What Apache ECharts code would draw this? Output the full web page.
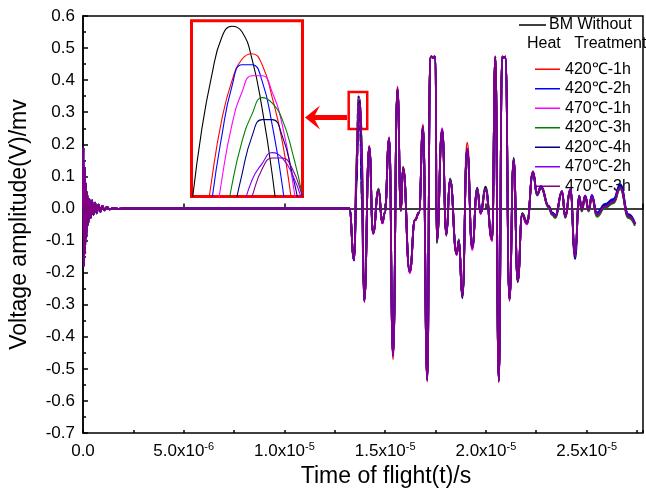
<!DOCTYPE html>
<html><head><meta charset="utf-8">
<script src="https://cdn.jsdelivr.net/npm/echarts@6/dist/echarts.min.js"></script>
<style>html,body{margin:0;padding:0;background:#fff}#c{width:646px;height:496px}</style>
</head><body><div id="c"></div><script>
// ---- data (time in microseconds, amplitude in mV) ----
const burstTimes  = [0, 0.02, 0.05, 0.08, 0.11, 0.14, 0.17, 0.21, 0.26, 0.32, 0.38, 0.45, 0.52, 0.60, 0.68, 0.77, 0.86, 0.96, 1.07, 1.19, 1.32, 1.50, 1.75, 2.0];
const burstValues = [0, 0.19, -0.18, 0.13, -0.14, 0.08, -0.09, 0.05, -0.05, 0.03, -0.03, 0.025, -0.02, 0.018, -0.015, 0.012, -0.01, 0.008, -0.006, 0.005, -0.003, 0.002, -0.001, 0];

const signalTimes = [13.22, 13.46,
  13.60, 13.61, 13.62, 13.63, 13.64, 13.65, 13.66, 13.67, 13.68, 13.69, 13.70, 13.71, 13.72, 13.73, 13.74, 13.75, 13.76, 13.77, 13.78, 13.79, 13.80, 13.81, 13.82,
  13.96, 14.21, 14.40, 14.67, 14.86, 14.98, 15.20, 15.39, 15.61, 15.78, 15.89, 16.22, 16.48, 16.68, 16.88, 17.09, 17.24, 17.30, 17.38, 17.45, 17.50, 17.56,
  17.83, 18.04, 18.22, 18.55, 18.66, 18.83, 19.07, 19.32, 19.57, 19.74, 19.98, 20.31, 20.47, 20.64, 20.81, 20.89, 20.97, 21.17, 21.38, 21.58, 21.80, 22.04, 22.34, 22.54, 22.74,
  23.12, 23.28, 23.45, 23.78, 23.94, 24.19, 24.43, 24.63, 24.76, 24.93, 25.10, 25.26, 25.51, 25.92, 26.33, 26.67, 27.08, 27.40];

const bmValues = [0, -0.160,
  0.190, 0.224, 0.253, 0.278, 0.300, 0.318, 0.332, 0.342, 0.349, 0.351, 0.350, 0.345, 0.336, 0.324, 0.308, 0.287, 0.263, 0.236, 0.204, 0.169, 0.130, 0.087, 0.040,
  -0.285, 0.190, -0.075, 0.055, -0.045, -0.012, 0.215, -0.450, 0.368, -0.008, 0.122, -0.195, -0.035, -0.012, 0.250, -0.525, 0.468, 0.473, 0.470, 0.473, 0.468, -0.108,
  0.240, -0.085, 0.092, -0.142, -0.098, -0.273, 0.180, -0.125, 0.065, -0.010, 0.068, -0.090, 0.473, -0.530, 0.473, 0.470, 0.473, -0.278, 0.158, -0.230, -0.015, -0.040, 0.110, 0.045, 0.066,
  0.004, -0.012, -0.022, 0.050, -0.022, 0.055, -0.135, 0.040, -0.002, 0.040, -0.003, 0.038, -0.018, 0.004, 0.018, 0.062, -0.022, -0.048];

const h420_1Values = [0, -0.158,
  0.159, 0.192, 0.222, 0.249, 0.272, 0.292, 0.309, 0.323, 0.334, 0.341, 0.345, 0.346, 0.344, 0.338, 0.330, 0.318, 0.303, 0.285, 0.263, 0.238, 0.211, 0.180, 0.145,
  -0.292, 0.196, -0.078, 0.060, -0.046, -0.016, 0.222, -0.470, 0.380, -0.004, 0.130, -0.200, -0.038, -0.015, 0.262, -0.540, 0.473, 0.474, 0.471, 0.474, 0.471, -0.100,
  0.248, -0.078, 0.088, -0.138, -0.102, -0.268, 0.205, -0.118, 0.060, -0.016, 0.058, -0.100, 0.474, -0.542, 0.474, 0.471, 0.474, -0.288, 0.150, -0.222, -0.022, -0.048, 0.116, 0.048, 0.070,
  0.008, -0.016, -0.028, 0.055, -0.027, 0.060, -0.145, 0.036, -0.006, 0.035, -0.006, 0.036, -0.022, 0.007, 0.022, 0.066, -0.026, -0.050];

const h420_2Values = [0, -0.162,
  0.120, 0.160, 0.197, 0.229, 0.258, 0.282, 0.302, 0.319, 0.331, 0.340, 0.344, 0.344, 0.341, 0.333, 0.322, 0.306, 0.286, 0.263, 0.235, 0.204, 0.168, 0.128, 0.085,
  -0.290, 0.192, -0.076, 0.058, -0.044, -0.014, 0.219, -0.460, 0.375, -0.005, 0.126, -0.198, -0.036, -0.014, 0.256, -0.535, 0.472, 0.474, 0.470, 0.474, 0.470, -0.102,
  0.244, -0.076, 0.090, -0.140, -0.100, -0.272, 0.186, -0.120, 0.058, -0.014, 0.060, -0.098, 0.473, -0.538, 0.473, 0.470, 0.473, -0.284, 0.152, -0.224, -0.020, -0.045, 0.114, 0.046, 0.068,
  0.008, -0.012, -0.020, 0.054, -0.024, 0.060, -0.148, 0.040, -0.004, 0.040, 0.000, 0.042, -0.012, 0.014, 0.030, 0.075, -0.018, -0.045];

const h470_1Values = [0, -0.158,
  0.131, 0.166, 0.198, 0.227, 0.253, 0.275, 0.294, 0.310, 0.323, 0.333, 0.339, 0.342, 0.342, 0.339, 0.333, 0.323, 0.310, 0.294, 0.275, 0.253, 0.227, 0.198, 0.166,
  -0.288, 0.190, -0.080, 0.057, -0.047, -0.015, 0.218, -0.458, 0.372, -0.002, 0.124, -0.202, -0.037, -0.013, 0.254, -0.532, 0.471, 0.473, 0.470, 0.473, 0.470, -0.098,
  0.250, -0.082, 0.086, -0.146, -0.104, -0.275, 0.184, -0.130, 0.056, -0.018, 0.056, -0.102, 0.473, -0.536, 0.473, 0.470, 0.473, -0.282, 0.150, -0.226, -0.024, -0.050, 0.112, 0.042, 0.064,
  0.004, -0.018, -0.026, 0.050, -0.028, 0.056, -0.140, 0.034, -0.008, 0.034, -0.008, 0.034, -0.024, 0.004, 0.020, 0.064, -0.028, -0.052];

const h420_3Values = [0, -0.160,
  0.123, 0.156, 0.186, 0.214, 0.239, 0.261, 0.280, 0.297, 0.311, 0.322, 0.330, 0.335, 0.338, 0.337, 0.334, 0.328, 0.320, 0.308, 0.294, 0.277, 0.257, 0.234, 0.209,
  -0.286, 0.188, -0.074, 0.062, -0.043, -0.013, 0.216, -0.455, 0.370, -0.006, 0.128, -0.194, -0.034, -0.012, 0.252, -0.530, 0.470, 0.473, 0.470, 0.473, 0.469, -0.104,
  0.242, -0.080, 0.094, -0.144, -0.096, -0.276, 0.182, -0.122, 0.062, -0.012, 0.062, -0.094, 0.473, -0.534, 0.473, 0.470, 0.473, -0.280, 0.154, -0.228, -0.018, -0.044, 0.108, 0.040, 0.062,
  0.002, -0.020, -0.030, 0.048, -0.030, 0.052, -0.142, 0.032, -0.010, 0.032, -0.010, 0.032, -0.026, 0.002, 0.016, 0.060, -0.030, -0.054];

const h420_4Values = [0, -0.162,
  0.084, 0.123, 0.158, 0.190, 0.219, 0.244, 0.267, 0.286, 0.302, 0.315, 0.324, 0.331, 0.334, 0.334, 0.331, 0.324, 0.315, 0.302, 0.286, 0.267, 0.244, 0.219, 0.190,
  -0.288, 0.192, -0.078, 0.058, -0.045, -0.014, 0.218, -0.458, 0.372, -0.004, 0.126, -0.196, -0.036, -0.014, 0.255, -0.534, 0.472, 0.473, 0.470, 0.473, 0.470, -0.100,
  0.244, -0.080, 0.090, -0.140, -0.100, -0.280, 0.186, -0.122, 0.060, -0.014, 0.060, -0.096, 0.473, -0.538, 0.473, 0.470, 0.473, -0.284, 0.152, -0.226, -0.020, -0.046, 0.112, 0.044, 0.066,
  0.006, -0.014, -0.024, 0.052, -0.026, 0.058, -0.158, 0.038, -0.004, 0.038, -0.004, 0.038, -0.016, 0.010, 0.026, 0.072, -0.020, -0.048];

const h470_2Values = [0, -0.160,
  0.136, 0.164, 0.190, 0.214, 0.235, 0.254, 0.271, 0.286, 0.298, 0.309, 0.317, 0.323, 0.326, 0.328, 0.327, 0.324, 0.319, 0.312, 0.303, 0.291, 0.277, 0.261, 0.243,
  -0.288, 0.191, -0.077, 0.058, -0.045, -0.014, 0.218, -0.458, 0.373, -0.004, 0.126, -0.198, -0.036, -0.014, 0.255, -0.535, 0.472, 0.473, 0.470, 0.473, 0.470, -0.100,
  0.246, -0.080, 0.090, -0.142, -0.100, -0.272, 0.186, -0.122, 0.060, -0.014, 0.060, -0.096, 0.473, -0.538, 0.473, 0.470, 0.473, -0.284, 0.152, -0.224, -0.020, -0.046, 0.114, 0.044, 0.066,
  0.006, -0.016, -0.024, 0.054, -0.026, 0.062, -0.146, 0.040, -0.004, 0.040, -0.004, 0.038, -0.018, 0.006, 0.022, 0.066, -0.024, -0.048];

const h470_3Values = [0, -0.160,
  0.127, 0.155, 0.182, 0.206, 0.228, 0.248, 0.265, 0.281, 0.294, 0.305, 0.314, 0.320, 0.325, 0.327, 0.327, 0.325, 0.320, 0.314, 0.305, 0.294, 0.281, 0.265, 0.248,
  -0.286, 0.190, -0.076, 0.057, -0.046, -0.015, 0.217, -0.456, 0.371, -0.005, 0.125, -0.197, -0.036, -0.014, 0.254, -0.533, 0.471, 0.473, 0.470, 0.473, 0.470, -0.101,
  0.245, -0.081, 0.089, -0.143, -0.101, -0.274, 0.185, -0.123, 0.059, -0.015, 0.059, -0.097, 0.473, -0.537, 0.473, 0.470, 0.473, -0.283, 0.151, -0.225, -0.021, -0.047, 0.113, 0.043, 0.065,
  0.005, -0.017, -0.025, 0.052, -0.027, 0.058, -0.144, 0.038, -0.005, 0.038, -0.005, 0.036, -0.020, 0.005, 0.020, 0.065, -0.025, -0.049];

const seriesNames = ['BM Without Heat Treatment', '420℃-1h', '420℃-2h', '470℃-1h', '420℃-3h', '420℃-4h', '470℃-2h', '470℃-3h'];
const seriesValues = [bmValues, h420_1Values, h420_2Values, h470_1Values, h420_3Values, h420_4Values, h470_2Values, h470_3Values];
const seriesColors = ['#000000', '#ff0000', '#0000ff', '#ff00ff', '#008000', '#000080', '#8000ff', '#800080'];

const xTickValues = [0, 5, 10, 15, 20, 25];
const xTickMantissa = ['0.0', '5.0', '1.0', '1.5', '2.0', '2.5'];
const xTickExponent = ['', '-6', '-5', '-5', '-5', '-5'];

// zoomed region shown in the inset (peak of first echo)
const insetRange = { tMin: 13.65, tMax: 13.76, vMin: 0.32, vMax: 0.352 };
const markBox = { t0: 13.19, t1: 14.11, v0: 0.363, v1: 0.248 };

// ---- build ----
function buildData(vals) {
  const d = burstTimes.map((t, i) => [t, burstValues[i]]);
  signalTimes.forEach((t, i) => d.push([t, vals[i]]));
  return d;
}
const FONT = '"Liberation Sans", Arial, sans-serif';
const chart = echarts.init(document.getElementById('c'), null, { renderer: 'canvas' });

const series = [];
seriesNames.forEach((name, k) => {
  const s = {
    name, type: 'line', xAxisIndex: 0, yAxisIndex: 0,
    data: buildData(seriesValues[k]), showSymbol: false, symbol: 'none',
    smooth: 0.5, smoothMonotone: 'x',
    lineStyle: { color: seriesColors[k], width: 1.8 }, itemStyle: { color: seriesColors[k] },
    silent: true, animation: false, z: 2 + k
  };
  if (k === 0) {
    s.markArea = {
      silent: true,
      itemStyle: { color: 'rgba(0,0,0,0)', borderColor: '#ff0000', borderWidth: 2.5 },
      data: [[{ xAxis: markBox.t0, yAxis: markBox.v0 }, { xAxis: markBox.t1, yAxis: markBox.v1 }]]
    };
  }
  series.push(s);
});
seriesNames.forEach((name, k) => {
  series.push({
    name, type: 'line', xAxisIndex: 2, yAxisIndex: 1,
    data: buildData(seriesValues[k]), showSymbol: false, symbol: 'none',
    smooth: 0.5, clip: true,
    lineStyle: { color: seriesColors[k], width: 1.1 }, itemStyle: { color: seriesColors[k] },
    silent: true, animation: false, z: 2 + k
  });
});

const xLabelMap = {};
xTickValues.forEach((v, i) => {
  xLabelMap[v] = xTickExponent[i] ? '{b|' + xTickMantissa[i] + 'x10}{s|' + xTickExponent[i] + '}' : '{b|' + xTickMantissa[i] + '}';
});

const option = {
  backgroundColor: '#fff',
  animation: false,
  textStyle: { fontFamily: FONT },
  grid: [
    { left: 83, top: 16, width: 562, height: 417, show: true, borderColor: '#000', borderWidth: 1.5, backgroundColor: 'transparent', z: 0 },
    { left: 191.5, top: 20.8, width: 111, height: 175.7, show: true, borderColor: '#ff0000', borderWidth: 3, backgroundColor: '#fff', z: 1 }
  ],
  xAxis: [
    {
      type: 'value', gridIndex: 0, min: 0, max: 27.8, interval: 5,
      name: 'Time of flight(t)/s', nameLocation: 'middle', nameGap: 32,
      nameTextStyle: { fontSize: 23, color: '#000', fontFamily: FONT, padding: [0, 0, 0, 46] },
      axisLine: { lineStyle: { color: '#000', width: 1.5 } },
      axisTick: { inside: true, length: 5, lineStyle: { color: '#000', width: 1.5 } },
      splitLine: { show: false },
      axisLabel: {
        margin: 8, color: '#000', fontFamily: FONT,
        formatter: v => (xLabelMap[v] !== undefined ? xLabelMap[v] : ''),
        rich: {
          b: { fontSize: 17, fontFamily: FONT, color: '#000', lineHeight: 20 },
          s: { fontSize: 11, fontFamily: FONT, color: '#000', verticalAlign: 'top', lineHeight: 11 }
        }
      }
    },
    {
      type: 'value', gridIndex: 0, min: 0, max: 27.8, interval: 2.5, position: 'bottom',
      axisLine: { show: false }, axisLabel: { show: false }, splitLine: { show: false },
      axisTick: { inside: true, length: 3, lineStyle: { color: '#000', width: 1.5 } }
    },
    { type: 'value', gridIndex: 1, min: insetRange.tMin, max: insetRange.tMax, show: false }
  ],
  yAxis: [
    {
      type: 'value', gridIndex: 0, min: -0.7, max: 0.6, interval: 0.1,
      name: 'Voltage amplitude(V)/mv', nameLocation: 'middle', nameGap: 52,
      nameTextStyle: { fontSize: 23, color: '#000', fontFamily: FONT },
      axisLine: { show: true, lineStyle: { color: '#000', width: 1.5 } },
      axisTick: { show: true, inside: true, length: 5, lineStyle: { color: '#000', width: 1.5 } },
      minorTick: { show: true, splitNumber: 2, length: 3, lineStyle: { color: '#000', width: 1.5 } },
      splitLine: { show: false },
      axisLabel: { margin: 8, fontSize: 17, color: '#000', fontFamily: FONT, formatter: v => v.toFixed(1) }
    },
    { type: 'value', gridIndex: 1, min: insetRange.vMin, max: insetRange.vMax, show: false }
  ],
  legend: {
    orient: 'vertical', left: 530, top: 54.5, itemGap: 0,
    icon: 'rect', itemWidth: 25, itemHeight: 1.5,
    textStyle: { fontSize: 16, color: '#000', fontFamily: FONT, lineHeight: 19.5 },
    data: seriesNames.slice(1)
  },
  graphic: [
    { type: 'line', shape: { x1: 519, y1: 25, x2: 546, y2: 25 }, style: { stroke: '#000', lineWidth: 1.5 }, z: 10 },
    { type: 'text', x: 549, y: 25, style: { text: 'BM Without', font: '16px ' + FONT, fill: '#000', verticalAlign: 'middle', align: 'left' }, z: 10 },
    { type: 'text', x: 527, y: 44, style: { text: 'Heat   Treatment', font: '16px ' + FONT, fill: '#000', verticalAlign: 'middle', align: 'left' }, z: 10 },
    { type: 'polygon', shape: { points: [[305, 117.5], [320, 105.5], [315, 115], [347, 115], [347, 120], [315, 120], [320, 129.5]] }, style: { fill: '#ff0000' }, z: 10 }
  ],
  series
};
chart.setOption(option);
</script></body></html>
